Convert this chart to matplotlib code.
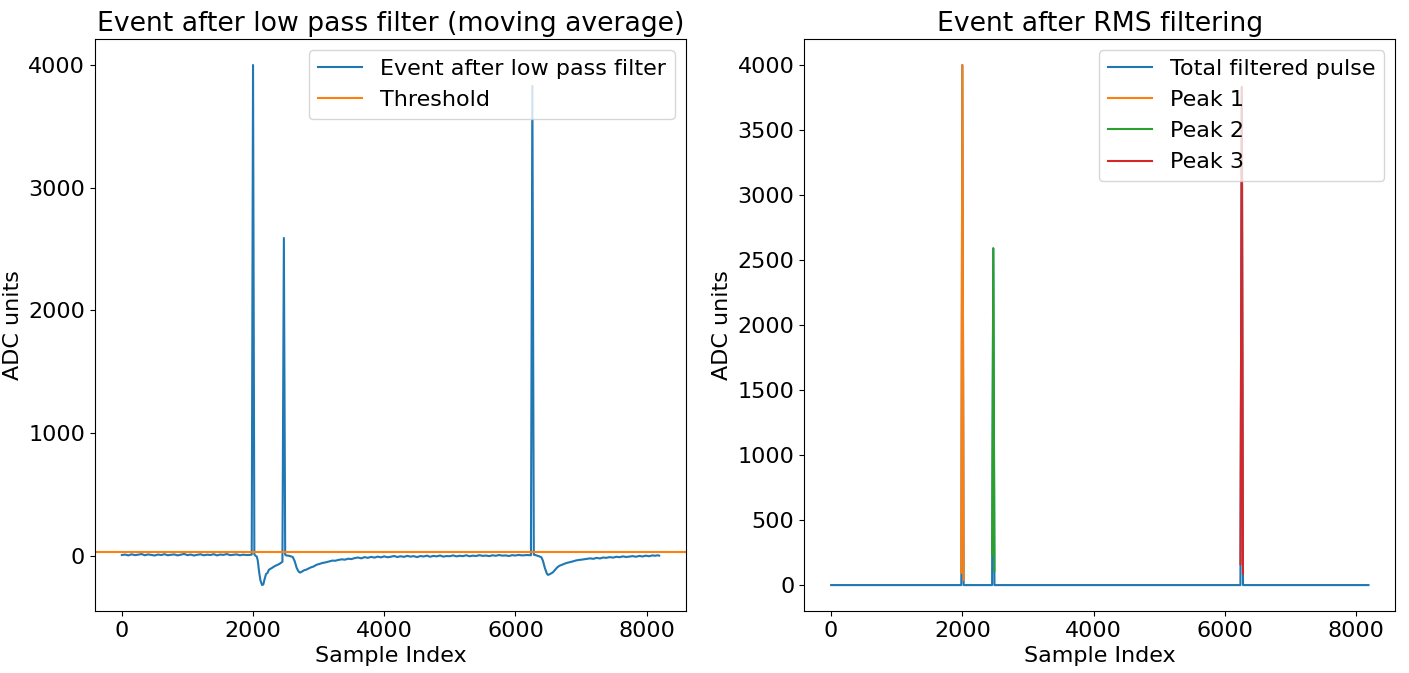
import matplotlib
matplotlib.use("Agg")
from matplotlib import pyplot as plt

plt.rcParams['font.size'] = 16

# event after the moving average
lp_idx = [0, 50, 100, 150, 200, 250, 300, 350, 400, 450, 500, 550, 600, 650, 700, 750,
          800, 850, 900, 950, 1000, 1050, 1100, 1150, 1200, 1250, 1300, 1350, 1400, 1450,
          1500, 1550, 1600, 1650, 1700, 1750, 1800, 1850, 1900, 1950, 1980,
          2000, 2020,
          2036, 2057, 2072, 2092, 2112, 2138, 2157, 2172, 2198, 2222, 2242, 2274, 2302,
          2332, 2362, 2401, 2422, 2448,
          2470, 2490,
          2505, 2535, 2575, 2606, 2635, 2665, 2695, 2717, 2745, 2775, 2808, 2845, 2885,
          2925, 2965, 3010, 3055, 3105, 3155, 3212, 3250, 3300, 3350, 3400, 3450, 3500,
          3550, 3600, 3650, 3700, 3750, 3800, 3850, 3900, 3950, 4000, 4050, 4100, 4150,
          4200, 4250, 4300, 4350, 4400, 4450, 4500, 4550, 4600, 4650, 4700, 4750, 4800,
          4850, 4900, 4950, 5000, 5050, 5100, 5150, 5200, 5250, 5300, 5350, 5400, 5450,
          5500, 5550, 5600, 5650, 5700, 5750, 5800, 5850, 5900, 5950, 6000, 6050, 6100,
          6180, 6236,
          6258, 6280,
          6308, 6358, 6395, 6418, 6448, 6478, 6496, 6528, 6571, 6598, 6638, 6673, 6708,
          6738, 6778, 6825, 6868, 6918, 6968, 7018, 7078, 7138, 7188, 7238, 7288, 7338,
          7381, 7438, 7488, 7538, 7588, 7638, 7688, 7735, 7788, 7838, 7888, 7938, 7988,
          8038, 8088, 8130, 8165, 8191]
lp_adc = [5, 9, 2, 11, 4, 8, 13, 3, 10, 6, 1, 9, 5, 12, 3, 7,
          10, 2, 8, 14, 4, 9, 1, 7, 11, 3, 8, 5, 12, 2,
          9, 6, 13, 4, 7, 10, 3, 8, 5, 6, 8,
          4000, 10,
          0, -8, -40, -130, -200, -240, -235, -200, -150, -140, -115, -105, -95,
          -85, -78, -68, -60, -50,
          2590, 8,
          2, 0, -5, -12, -45, -100, -130, -138, -130, -120, -115, -105, -95,
          -88, -75, -68, -60, -55, -48, -40, -42, -35, -30, -33, -25, -28,
          -20, -15, -22, -12, -18, -10, -16, -8, -14, -6, -13, -9, -3,
          -11, -5, -10, -2, -8, -4, -12, -3, -7, 0, -9, -2, -6,
          1, -8, -3, -5, 2, -6, -1, -4, 3, -5, 0, -3, 4,
          -2, 1, -4, 3, -1, 5, 0, 2, -3, 4, 1, 6, 2,
          5, 3,
          3830, 8,
          4, -5, -13, -40, -100, -145, -157, -150, -136, -120, -95, -82, -75,
          -68, -60, -54, -48, -40, -35, -32, -27, -22, -26, -18, -23, -15,
          -18, -12, -16, -9, -13, -6, -11, -8, -4, -9, -2, -7, 0,
          -5, 2, -1, 3, 0]
threshold = 33

# peaks kept after RMS filtering
peak1_idx = [1985, 2000, 2020]
peak1_adc = [94, 4000, 40]
peak2_idx = [2455, 2472, 2489]
peak2_adc = [228, 2590, 107]
peak3_idx = [6240, 6260, 6278]
peak3_adc = [161, 3830, 88]
n_samples = 8192

# total filtered pulse: zero outside the peak windows
tot_idx = [0]
tot_adc = [0]
for pidx, padc in [(peak1_idx, peak1_adc), (peak2_idx, peak2_adc), (peak3_idx, peak3_adc)]:
    tot_idx += [pidx[0] - 1] + pidx + [pidx[-1] + 1]
    tot_adc += [0] + padc + [0]
tot_idx.append(n_samples - 1)
tot_adc.append(0)

fig = plt.figure(figsize=(14.09, 6.73), dpi=100)
ax1 = fig.add_subplot(1, 2, 1)
ax2 = fig.add_subplot(1, 2, 2)
fig.subplots_adjust(left=0.0674, right=0.9903, bottom=0.092, top=0.942, wspace=0.2)

ax1.plot(lp_idx, lp_adc, label='Event after low pass filter')
ax1.axhline(threshold, color='C1', label='Threshold')
ax1.set_title('Event after low pass filter (moving average)')
ax1.set_xlabel('Sample Index')
ax1.set_ylabel('ADC units')
ax1.legend(loc='upper right')

ax2.plot(tot_idx, tot_adc, label='Total filtered pulse')
ax2.plot(peak1_idx, peak1_adc, label='Peak 1')
ax2.plot(peak2_idx, peak2_adc, label='Peak 2')
ax2.plot(peak3_idx, peak3_adc, label='Peak 3')
ax2.set_title('Event after RMS filtering')
ax2.set_xlabel('Sample Index')
ax2.set_ylabel('ADC units')
ax2.legend(loc='upper right')

fig.savefig('out.png', dpi=100)
